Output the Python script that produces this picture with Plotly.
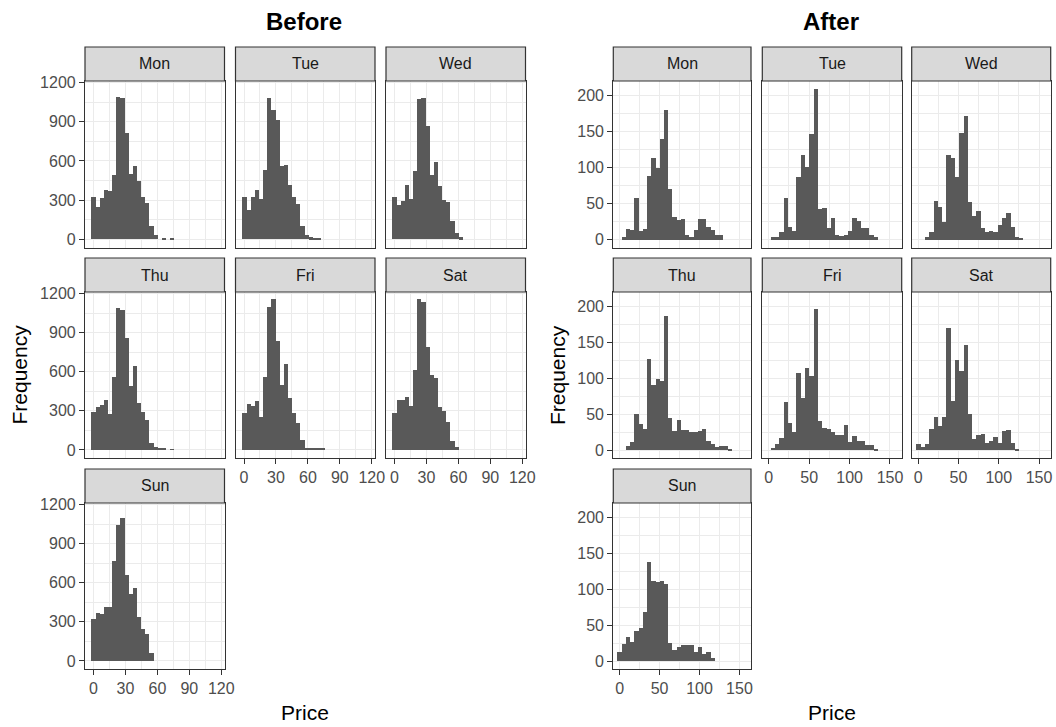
import plotly.graph_objects as go

W, H = 1056, 727
days = ["Mon", "Tue", "Wed", "Thu", "Fri", "Sat", "Sun"]

# ---- "Before" histogram counts (shared bins) ----
before_mon = [325, 248, 317, 380, 370, 495, 1090, 1082, 814, 503, 559, 447, 324, 281, 102, 33, 0, 6, 0, 6]
before_tue = [324, 227, 324, 380, 306, 534, 1082, 993, 917, 560, 570, 414, 324, 268, 102, 33, 15, 10, 10]
before_wed = [324, 260, 291, 414, 306, 523, 1077, 1085, 868, 495, 592, 406, 304, 286, 138, 51, 15]
before_thu = [294, 327, 345, 383, 273, 562, 1093, 1072, 858, 493, 646, 360, 294, 230, 51, 20, 18, 18, 0, 6]
before_fri = [281, 352, 340, 373, 250, 562, 1095, 1160, 835, 497, 660, 395, 285, 210, 75, 15, 12, 12, 12, 12]
before_sat = [281, 383, 383, 403, 340, 615, 1162, 1139, 791, 574, 551, 327, 296, 217, 71, 20]
before_sun = [322, 370, 357, 411, 411, 768, 1047, 1100, 659, 513, 557, 334, 245, 204, 59]

# ---- "After" histogram counts (shared bins) ----
after_mon = [0, 4, 15, 13, 58, 12, 15, 88, 113, 100, 140, 180, 70, 32, 27, 29, 7, 3, 13, 28, 29, 18, 13, 7, 7]
after_tue = [0, 4, 3, 10, 58, 18, 12, 87, 117, 101, 147, 210, 43, 44, 16, 30, 7, 5, 7, 12, 30, 26, 16, 16, 7, 3]
after_wed = [0, 0, 3, 10, 54, 45, 25, 117, 113, 87, 148, 172, 52, 33, 40, 16, 10, 12, 10, 20, 30, 37, 17, 3, 2]
after_thu = [0, 0, 6, 12, 50, 37, 30, 127, 91, 99, 97, 187, 45, 26, 42, 28, 28, 25, 25, 26, 30, 13, 8, 5, 6, 6, 2]
after_fri = [0, 3, 9, 17, 67, 38, 25, 107, 73, 115, 103, 197, 40, 31, 30, 25, 21, 21, 35, 11, 20, 13, 13, 7, 7, 2]
after_sat = [8, 4, 9, 30, 46, 33, 46, 170, 69, 125, 111, 147, 50, 15, 21, 22, 10, 13, 18, 10, 26, 28, 10, 2]
after_sun = [13, 24, 34, 27, 42, 46, 69, 138, 112, 111, 112, 108, 25, 15, 19, 22, 23, 23, 13, 19, 10, 13, 4]

before_bin_start = -2.0
before_bin_width = 3.89
after_bin_start = -2.5
after_bin_width = 5.31

before_x_ticks = [0, 30, 60, 90, 120]
before_x_minor = [15, 45, 75, 105]
before_y_ticks = [0, 300, 600, 900, 1200]
before_y_minor = [150, 450, 750, 1050]
after_x_ticks = [0, 50, 100, 150]
after_x_minor = [25, 75, 125]
after_y_ticks = [0, 50, 100, 150, 200]
after_y_minor = [25, 75, 125, 175]

before_x_range = [-8.0, 123.0]
before_y_range = [-62, 1212]
after_x_range = [-8.0, 164.5]
after_y_range = [-11, 220.5]

# ---- layout geometry (pixels) ----
left_cols = [(85, 224.5), (235.5, 375), (386, 525.5)]
right_cols = [(613.3, 751), (762.3, 901.7), (911.7, 1050.7)]
rows = [(47, 81, 247.5), (258, 292, 458), (469, 503, 669)]  # strip top, panel top, panel bottom
facet_pos = [(0, 0), (0, 1), (0, 2), (1, 0), (1, 1), (1, 2), (2, 0)]
x_label_days = {"Fri", "Sat", "Sun"}
y_label_days = {"Mon", "Thu", "Sun"}

FONT = "Liberation Sans, Arial, Helvetica, sans-serif"
BAR = "#595959"
BORDER = "#333333"
GRID = "#EBEBEB"
TICKTXT = "#4D4D4D"

fig = go.Figure()
shapes = []
annotations = []

groups = [
    dict(counts=[before_mon, before_tue, before_wed, before_thu, before_fri, before_sat, before_sun],
         start=before_bin_start, width=before_bin_width, cols=left_cols,
         xt=before_x_ticks, xm=before_x_minor, yt=before_y_ticks, ym=before_y_minor,
         xr=before_x_range, yr=before_y_range),
    dict(counts=[after_mon, after_tue, after_wed, after_thu, after_fri, after_sat, after_sun],
         start=after_bin_start, width=after_bin_width, cols=right_cols,
         xt=after_x_ticks, xm=after_x_minor, yt=after_y_ticks, ym=after_y_minor,
         xr=after_x_range, yr=after_y_range),
]

k = 0
for g in groups:
    for d, day in enumerate(days):
        k += 1
        r, c = facet_pos[d]
        x0p, x1p = g["cols"][c]
        st, pt, pb = rows[r]
        counts = g["counts"][d]
        centers = [g["start"] + g["width"] * (i + 0.5) for i in range(len(counts))]
        xa = "x" if k == 1 else f"x{k}"
        ya = "y" if k == 1 else f"y{k}"
        fig.add_trace(go.Bar(
            x=centers, y=counts, width=[g["width"]] * len(counts),
            marker=dict(color=BAR, line=dict(width=0)),
            xaxis=xa, yaxis=ya, showlegend=False,
        ))
        show_x = day in x_label_days
        show_y = day in y_label_days
        xaxis = dict(
            domain=[x0p / W, x1p / W], anchor=ya, range=g["xr"], automargin=False,
            tickmode="array", tickvals=g["xt"], ticktext=[str(v) for v in g["xt"]],
            showticklabels=show_x, ticks="outside" if show_x else "",
            ticklen=5, tickwidth=1.2, tickcolor=BORDER,
            tickfont=dict(family=FONT, size=16, color=TICKTXT),
            showgrid=True, gridcolor=GRID, gridwidth=1.3,
            minor=dict(tickmode="array", tickvals=g["xm"], showgrid=True, gridcolor=GRID, gridwidth=0.7, ticks=""),
            zeroline=False, showline=True, mirror=True, linecolor=BORDER, linewidth=1.2,
            fixedrange=True,
        )
        yaxis = dict(
            domain=[1 - pb / H, 1 - pt / H], anchor=xa, range=g["yr"], automargin=False,
            tickmode="array", tickvals=g["yt"], ticktext=[str(v) for v in g["yt"]],
            showticklabels=show_y, ticks="outside" if show_y else "",
            ticklen=5, tickwidth=1.2, tickcolor=BORDER,
            tickfont=dict(family=FONT, size=16, color=TICKTXT),
            showgrid=True, gridcolor=GRID, gridwidth=1.3,
            minor=dict(tickmode="array", tickvals=g["ym"], showgrid=True, gridcolor=GRID, gridwidth=0.7, ticks=""),
            zeroline=False, showline=True, mirror=True, linecolor=BORDER, linewidth=1.2,
            fixedrange=True,
        )
        fig.update_layout(**{("xaxis" if k == 1 else f"xaxis{k}"): xaxis,
                             ("yaxis" if k == 1 else f"yaxis{k}"): yaxis})
        # strip
        shapes.append(dict(type="rect", xref="paper", yref="paper",
                           x0=x0p / W, x1=x1p / W, y0=1 - pt / H, y1=1 - st / H,
                           fillcolor="#D9D9D9", line=dict(color=BORDER, width=1.2), layer="above"))
        annotations.append(dict(text=day, xref="paper", yref="paper",
                                x=(x0p + x1p) / 2 / W, y=1 - (st + pt) / 2 / H,
                                showarrow=False, xanchor="center", yanchor="middle",
                                font=dict(family=FONT, size=16, color="#1A1A1A")))

# group titles and axis titles
titles = [("Before", 304, left_cols, 18.5), ("After", 831, right_cols, 557)]
for text, cx, cols, fx in titles:
    annotations.append(dict(text=f"<b>{text}</b>", xref="paper", yref="paper",
                            x=cx / W, y=1 - 21 / H, showarrow=False,
                            xanchor="center", yanchor="middle",
                            font=dict(family=FONT, size=24, color="#000000")))
    annotations.append(dict(text="Price", xref="paper", yref="paper",
                            x=(cols[0][0] + cols[2][1]) / 2 / W, y=1 - 712 / H, showarrow=False,
                            xanchor="center", yanchor="middle",
                            font=dict(family=FONT, size=21, color="#000000")))
    annotations.append(dict(text="Frequency", xref="paper", yref="paper",
                            x=fx / W, y=1 - 375 / H, showarrow=False, textangle=-90,
                            xanchor="center", yanchor="middle",
                            font=dict(family=FONT, size=21, color="#000000")))

fig.update_layout(
    width=W, height=H, autosize=False,
    margin=dict(l=0, r=0, t=0, b=0, autoexpand=False),
    paper_bgcolor="white", plot_bgcolor="white",
    shapes=shapes, annotations=annotations,
    bargap=0, barmode="overlay",
    showlegend=False,
)

fig.write_html("out.html")
